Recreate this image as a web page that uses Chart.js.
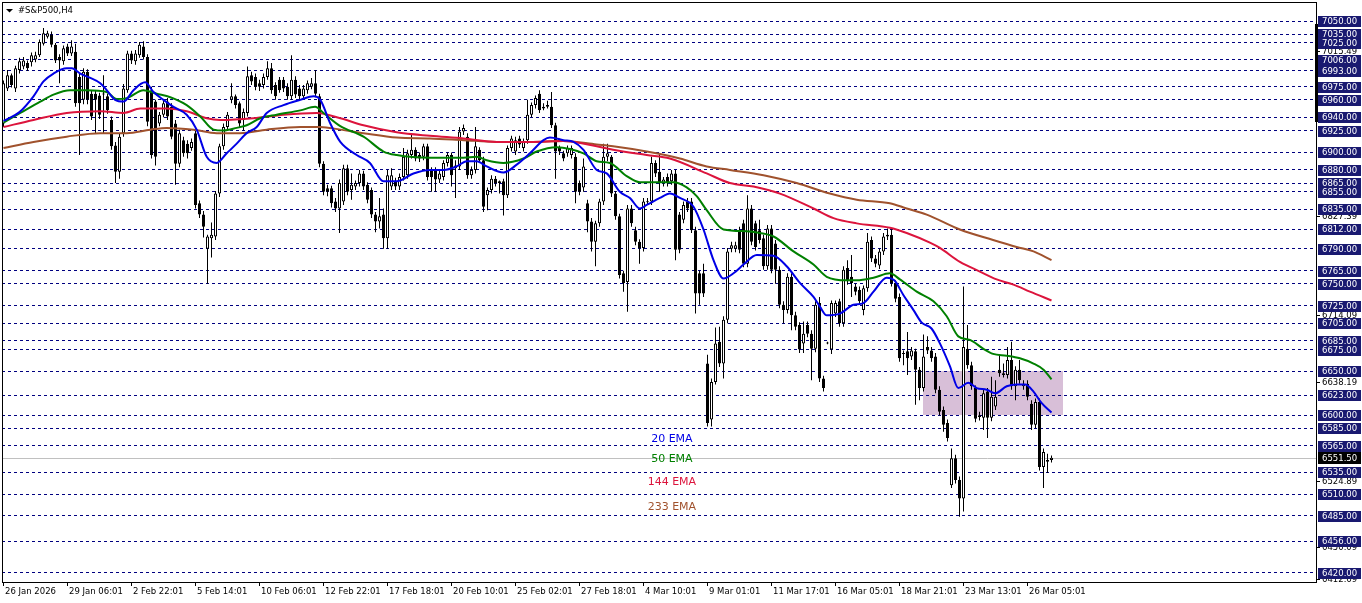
<!DOCTYPE html>
<html>
<head>
<meta charset="utf-8">
<script src="https://cdn.jsdelivr.net/npm/chart.js@4.4.1/dist/chart.umd.min.js"></script>
<style>
  html, body { margin: 0; padding: 0; background: #fff; overflow: hidden; }
  #wrap { width: 1362px; height: 603px; position: relative; }
</style>
</head>
<body>
<div id="wrap"><canvas id="chartSP500"></canvas></div>
<script>
// ================== DATA (#S&P500, H4) ================ //
const opens = [
  6933,6973,6988,6973,6994,6998,7002,7003,7006,7011,
  7024,7032,7034,7023,7009,7004,7021,7013,7015,6986,
  6960,6992,6967,6967,6965,6966,6964,6937,6908,6878,
  6922,6971,7013,7004,7011,7021,7009,6971,6958,6933,
  6943,6958,6952,6933,6887,6914,6910,6905,6922,6842,
  6829,6790,6802,6804,6853,6907,6929,6960,6964,6956,
  6937,6945,6988,6986,6979,6977,6986,6996,6977,6983,
  6983,6975,6964,6983,6973,6964,6971,6975,6979,6964,
  6887,6859,6859,6844,6836,6844,6882,6857,6861,6865,
  6876,6863,6857,6829,6821,6829,6802,6861,6867,6861,
  6872,6874,6897,6903,6897,6895,6907,6880,6880,6869,
  6872,6888,6897,6882,6884,6924,6918,6874,6880,6903,
  6891,6851,6857,6870,6867,6867,6851,6905,6901,6916,
  6905,6914,6943,6954,6967,6950,6952,6952,6931,6905,
  6899,6899,6897,6895,6865,6860,6842,6821,6798,6819,
  6844,6895,6895,6853,6827,6762,6752,6836,6811,6798,
  6791,6843,6844,6888,6878,6865,6872,6867,6876,6829,
  6823,6844,6844,6811,6762,6762,6659,6595,6638,6684,
  6659,6709,6790,6790,6811,6819,6773,6836,6819,6811,
  6802,6770,6813,6796,6766,6726,6720,6758,6714,6703,
  6682,6703,6693,6676,6728,6642,6682,6675,6716,6730,
  6705,6768,6758,6747,6743,6720,6745,6800,6779,6771,
  6787,6804,6806,6751,6735,6670,6673,6667,6673,6652,
  6631,6678,6674,6667,6629,6606,6591,6520,6551,6526,
  6505,6676,6657,6631,6598,6597,6627,6597,6610,6652,
  6646,6646,6663,6633,6652,6633,6636,6613,6589,6615,
  6541,6547,6549
];
const highs = [
  6982,6994,6990,6999,7008,7009,7005,7014,7015,7029,
  7042,7039,7038,7025,7012,7022,7024,7028,7024,6990,
  6996,6995,6971,6970,6968,6988,6967,6941,6912,6922,
  6978,7016,7016,7017,7026,7027,7012,6975,6960,6946,
  6960,6962,6956,6937,6926,6918,6914,6916,6925,6845,
  6833,6806,6820,6856,6910,6933,6946,6979,6966,6958,
  6950,6998,6992,6990,6983,6990,7004,7002,6980,6986,
  6986,6979,7011,6987,6977,6977,6982,6985,6994,6967,
  6890,6863,6862,6848,6869,6886,6886,6876,6868,6880,
  6879,6866,6860,6832,6848,6836,6880,6882,6871,6876,
  6905,6903,6920,6906,6900,6910,6910,6883,6883,6880,
  6891,6900,6900,6891,6929,6932,6922,6884,6929,6906,
  6895,6860,6874,6873,6868,6870,6908,6919,6918,6919,
  6916,6960,6957,6965,6971,6956,6959,6969,6934,6908,
  6902,6908,6908,6899,6868,6893,6846,6825,6822,6847,
  6910,6910,6897,6856,6830,6765,6840,6840,6815,6801,
  6848,6848,6895,6891,6899,6872,6876,6880,6880,6832,
  6844,6848,6848,6815,6765,6773,6669,6642,6700,6701,
  6713,6791,6798,6798,6815,6823,6851,6840,6822,6823,
  6806,6817,6817,6800,6770,6730,6762,6762,6718,6706,
  6707,6707,6697,6730,6735,6645,6684,6731,6731,6733,
  6770,6777,6783,6750,6747,6748,6808,6804,6783,6790,
  6808,6813,6813,6754,6739,6674,6695,6678,6676,6655,
  6692,6690,6678,6671,6633,6610,6595,6562,6555,6530,
  6747,6703,6661,6634,6604,6629,6631,6644,6640,6669,
  6659,6678,6684,6656,6663,6640,6640,6617,6619,6619,
  6562,6556,6554
];
const lows = [
  6929,6970,6974,6969,6990,6995,6993,6998,7003,7009,
  7022,7030,7020,7002,6979,7000,7010,7010,6952,6897,
  6955,6955,6937,6922,6938,6922,6944,6903,6865,6870,
  6918,6968,7001,7000,7008,7006,6930,6893,6885,6930,
  6940,6937,6915,6863,6883,6895,6893,6902,6836,6825,
  6803,6750,6780,6800,6849,6903,6925,6956,6950,6929,
  6925,6941,6977,6971,6970,6973,6983,6967,6960,6968,
  6969,6960,6960,6962,6959,6960,6967,6972,6963,6883,
  6851,6850,6837,6832,6808,6840,6851,6846,6857,6861,
  6857,6842,6825,6809,6813,6790,6790,6857,6857,6857,
  6868,6870,6893,6890,6889,6891,6868,6855,6855,6865,
  6868,6884,6861,6848,6880,6920,6870,6870,6876,6888,
  6832,6834,6853,6861,6853,6828,6848,6901,6897,6905,
  6901,6910,6940,6950,6945,6948,6950,6928,6870,6897,
  6890,6895,6893,6842,6851,6855,6809,6787,6770,6815,
  6840,6890,6849,6823,6756,6741,6718,6815,6794,6773,
  6787,6840,6840,6872,6855,6861,6861,6863,6777,6785,
  6819,6832,6808,6716,6726,6735,6587,6587,6635,6655,
  6642,6705,6786,6786,6785,6769,6769,6794,6788,6796,
  6766,6766,6762,6750,6722,6705,6716,6697,6697,6671,
  6671,6689,6640,6672,6638,6627,6681,6670,6712,6701,
  6701,6749,6735,6737,6726,6714,6741,6775,6769,6767,
  6783,6800,6747,6729,6661,6657,6646,6663,6612,6617,
  6627,6670,6661,6625,6600,6581,6570,6517,6522,6484,
  6490,6653,6629,6592,6594,6583,6574,6593,6606,6644,
  6643,6642,6629,6617,6636,6629,6617,6583,6585,6537,
  6517,6534,6546
];
const closes = [
  6979,6988,6977,6996,7004,7005,6996,7011,7011,7026,
  7036,7036,7023,7005,7005,7019,7013,7021,6956,6956,
  6992,6960,6941,6960,6943,6967,6948,6907,6878,6918,
  6973,7013,7005,7013,7023,7009,6935,6897,6895,6943,
  6956,6941,6918,6887,6922,6899,6899,6912,6840,6829,
  6815,6804,6806,6853,6907,6929,6943,6964,6954,6933,
  6946,6987,6981,6975,6975,6986,6996,6971,6964,6971,
  6973,6964,6983,6966,6964,6973,6979,6979,6967,6887,
  6855,6855,6842,6836,6865,6882,6855,6863,6865,6876,
  6861,6846,6829,6821,6827,6802,6874,6874,6861,6872,
  6895,6899,6903,6893,6893,6907,6872,6872,6869,6876,
  6888,6897,6874,6885,6924,6928,6874,6880,6907,6891,
  6838,6857,6870,6865,6865,6851,6905,6916,6914,6909,
  6912,6943,6954,6962,6948,6952,6954,6931,6901,6901,
  6893,6905,6905,6855,6855,6884,6821,6798,6819,6844,
  6895,6899,6853,6827,6760,6751,6836,6819,6798,6791,
  6844,6844,6888,6876,6865,6869,6865,6876,6789,6789,
  6840,6836,6811,6739,6739,6739,6591,6638,6682,6659,
  6709,6787,6794,6794,6789,6773,6836,6798,6792,6800,
  6770,6813,6766,6766,6726,6720,6758,6714,6701,6675,
  6693,6693,6676,6726,6642,6631,6683,6728,6728,6705,
  6766,6753,6751,6741,6730,6745,6798,6779,6773,6787,
  6804,6806,6751,6733,6665,6671,6665,6674,6652,6631,
  6667,6674,6665,6629,6604,6589,6574,6551,6526,6505,
  6678,6657,6633,6596,6600,6625,6597,6621,6621,6648,
  6648,6663,6633,6652,6640,6636,6621,6589,6615,6541,
  6558,6549,6551.5
];

// EMA lines (bar index -> price)
const ema20Bars = [0,4,7.5,10,12.5,15.8,17.1,19.2,21.7,24.2,25.8,27.9,30,32.5,35.4,37.5,40,42.5,45.8,48.3,50.8,53.3,55.8,58.3,60.8,63.3,65.8,70,74.2,77.5,79.2,81.7,84.2,88.3,91.6,95,98.3,102.5,106.6,110,113.3,115.8,118.3,120.8,125,128.3,131.6,135,136.6,140,142.5,145,148.3,150.8,154.1,156.6,159.1,160.8,164.1,166.6,169.1,172.5,175,177.5,180,182.5,185,188.3,192.5,195.8,199.1,202.5,204.1,205.8,209.1,212.5,215,217.5,220.8,222.7,225,227.5,229.5,232,234.1,236.6,238.7,241.2,243.3,245.8,247.9,250.8,253.3,255.4,257.5,259.5,262];
const ema20Vals = [6936,6946,6964,6981,6990,6996,6996,6990,6985,6979,6971,6960,6958,6971,6980,6969,6960,6952,6943,6926,6895,6888,6899,6910,6922,6929,6945,6954,6960,6964,6960,6933,6912,6897,6888,6867,6867,6876,6880,6880,6884,6890,6890,6884,6877,6886,6899,6914,6917,6914,6912,6903,6880,6876,6855,6848,6836,6840,6848,6853,6848,6838,6812,6777,6756,6762,6772,6783,6782,6770,6751,6735,6724,6714,6716,6726,6728,6741,6757,6754,6737,6720,6706,6699,6682,6656,6631,6637,6631,6629,6625,6633,6635,6635,6627,6614,6603];

const ema50Bars = [0,4.2,9.2,12.5,16.7,20.8,25.8,28.3,30.8,35,38.3,41.7,45.8,49.2,52.5,55,58.3,60.8,64.2,68.3,74.2,77.9,80,84.2,90,95,98.3,106.6,115,118.3,120.8,125,130,133.3,138.3,141.6,145,148.3,151.6,155.8,159.1,164.1,167.5,170.8,173.3,175.8,180,185.8,189.1,192.5,197.5,202.5,205.8,210.8,213.3,217.5,221.6,224.1,228.3,232.5,235.8,238.7,241.6,244.9,247.4,250.8,254.1,257.5,260,262];
const ema50Vals = [6934,6945,6958,6966,6971,6971,6969,6961,6962,6971,6967,6963,6954,6941,6926,6925,6928,6931,6939,6943,6948,6952,6945,6930,6918,6901,6897,6894,6894,6895,6891,6888,6893,6901,6906,6904,6899,6890,6888,6873,6866,6866,6866,6860,6850,6834,6812,6810,6808,6804,6787,6772,6758,6754,6754,6757,6762,6755,6741,6730,6713,6690,6686,6676,6670,6668,6665,6659,6652,6641];

const ema144Bars = [0,7.5,15.8,24.2,30,34.2,40.8,45.8,50.8,54.2,62.5,70,78.3,84.2,90,98.3,106.6,115,123.3,131.6,140,148.3,152.4,160.8,166.6,175.8,181.6,187.5,194.1,202.5,207.5,213.3,221.6,225.8,231.6,234.1,239.1,244.1,248.3,252.5,256.6,262];
const ema144Vals = [6929,6937,6945,6947,6945,6950,6950,6947,6939,6937,6939,6943,6945,6939,6931,6923,6919,6916,6912,6912,6913,6907,6903,6897,6893,6876,6865,6861,6853,6836,6825,6819,6814,6808,6797,6791,6775,6764,6755,6749,6741,6731];

const ema233Bars = [0,7.5,15.8,24.2,30.8,36.7,40.8,47.5,53.3,59.2,65.8,74.2,79.2,84.2,90,98.3,106.6,115,123.3,131.6,140,148.3,152.4,160.8,169.1,175.8,181.6,190,198.3,206.6,213.3,221.6,225.8,230.8,239.1,247.4,253.3,257.5,262];
const ema233Vals = [6905,6912,6918,6922,6922,6926,6928,6926,6922,6922,6926,6929,6929,6926,6922,6917,6916,6914,6912,6912,6913,6909,6907,6901,6893,6884,6880,6874,6865,6853,6846,6842,6836,6829,6812,6800,6792,6787,6777];

// horizontal lines (navy labels) and the plain scale marks
const priceLevels = [7050,7035,7025,7006,6993,6975,6960,6940,6925,6900,6880,6865,6855,6835,6812,6790,6765,6750,6725,6705,6685,6675,6650,6623,6600,6585,6565,6535,6510,6485,6456,6420];
const scaleMarks = [7015.49,6827.39,6714.09,6638.19,6524.89,6450.09,6412.69];
const bidPrice = 6551.5;

// time axis
const dateLabels = ["26 Jan 2026","29 Jan 06:01","2 Feb 22:01","5 Feb 14:01","10 Feb 06:01","12 Feb 22:01","17 Feb 18:01","20 Feb 10:01","25 Feb 02:01","27 Feb 18:01","4 Mar 10:01","9 Mar 01:01","11 Mar 17:01","16 Mar 05:01","18 Mar 21:01","23 Mar 13:01","26 Mar 05:01"];
const dateBars = [0,16,32,48,64,80,96,112,128,144,160,176,192,208,224,240,256];

// text objects and the shaded zone
const emaNames = ["20 EMA","50 EMA","144 EMA","233 EMA"];
const emaLabelPrices = [6572.6,6549.8,6523.5,6495.4];
const emaLabelBar = 167.1;
const zoneBars = [229.8, 264.8];
const zonePrices = [6600, 6650];

// ================== STYLE ================ //
const EMA_COLORS = ["#0000e6", "#008000", "#dc143c", "#a0522d"];
const AXIS_FONT = '8.5px "DejaVu Sans"';
const NAVY = "#000080";
const LABEL_BG = "#191970";

function candleBodies() {
  return opens.map((o, i) => ({ x: i, y: [o, closes[i]] }));
}
function candleWicks() {
  return lows.map((l, i) => ({ x: i, y: [l, highs[i]] }));
}
function emaPoints(bars, vals) {
  return bars.map((b, i) => ({ x: b, y: vals[i] }));
}
function emaDataset(label, bars, vals, color) {
  return {
    type: "line",
    label,
    data: emaPoints(bars, vals),
    borderColor: color,
    borderWidth: 2,
    pointRadius: 0,
    cubicInterpolationMode: "monotone",
    order: 0,
  };
}

// ================== MT4 DECOR ================ //
const mt4Plugin = {
  id: "mt4",
  beforeDraw(chart) {
    const { ctx, scales: { x, y } } = chart;
    ctx.save();
    ctx.fillStyle = "#ffffff";
    ctx.fillRect(0, 0, chart.width, chart.height);
    const x0 = Math.round(x.getPixelForValue(zoneBars[0]));
    const x1 = Math.round(x.getPixelForValue(zoneBars[1]));
    const y0 = Math.round(y.getPixelForValue(zonePrices[1]));
    const y1 = Math.round(y.getPixelForValue(zonePrices[0]));
    ctx.fillStyle = "#d8bfd8";
    ctx.fillRect(x0, y0, x1 - x0, y1 - y0);
    ctx.restore();
  },
  beforeDatasetsDraw(chart) {
    const { ctx, chartArea, scales: { y } } = chart;
    const py = Math.round(y.getPixelForValue(bidPrice)) + 0.5;
    ctx.save();
    ctx.strokeStyle = "#c0c0c0";
    ctx.lineWidth = 1;
    ctx.beginPath();
    ctx.moveTo(chartArea.left, py);
    ctx.lineTo(chartArea.right, py);
    ctx.stroke();
    ctx.restore();
  },
  afterDraw(chart) {
    const { ctx, chartArea, scales: { x, y } } = chart;
    const { left, right, top, bottom } = chartArea;
    ctx.save();

    // frame
    ctx.strokeStyle = "#000";
    ctx.lineWidth = 1;
    ctx.strokeRect(left + 0.5, top + 0.5, right - left, bottom - top);
    ctx.fillStyle = "#000";
    ctx.fillRect(right - 1, 24, 3, 98);

    ctx.font = AXIS_FONT;
    ctx.textBaseline = "middle";
    ctx.textAlign = "left";

    // plain scale marks (partly hidden by the line labels)
    scaleMarks.forEach((v) => {
      const py = Math.round(y.getPixelForValue(v));
      ctx.fillStyle = "#000";
      ctx.fillRect(right + 1, py, 3, 1);
      ctx.fillText(v.toFixed(2), right + 6, py + 0.5);
    });

    // navy line labels
    priceLevels.forEach((v) => {
      const py = Math.round(y.getPixelForValue(v));
      ctx.fillStyle = LABEL_BG;
      ctx.fillRect(right + 2, py - 5, 43, 11);
      ctx.fillStyle = "#fff";
      ctx.fillText(v.toFixed(2), right + 6, py + 0.5);
    });

    // bid label
    const by = Math.round(y.getPixelForValue(bidPrice));
    ctx.fillStyle = "#000";
    ctx.fillRect(right + 2, by - 6, 43, 12);
    ctx.fillStyle = "#fff";
    ctx.fillText(bidPrice.toFixed(2), right + 6, by + 0.5);

    // time axis
    ctx.fillStyle = "#000";
    dateBars.forEach((b, i) => {
      const px = Math.round(x.getPixelForValue(b) - 0.5);
      ctx.fillRect(px, bottom, 1, 4);
      ctx.fillText(dateLabels[i], px + 2, bottom + 10);
    });

    // title
    ctx.beginPath();
    ctx.moveTo(6, 9);
    ctx.lineTo(13, 9);
    ctx.lineTo(9.5, 12.5);
    ctx.closePath();
    ctx.fill();
    ctx.fillText("#S&P500,H4", 18, 10.5);

    // EMA text objects
    ctx.font = '11px "DejaVu Sans"';
    ctx.textAlign = "center";
    emaNames.forEach((name, i) => {
      ctx.fillStyle = EMA_COLORS[i];
      ctx.fillText(name, x.getPixelForValue(emaLabelBar), y.getPixelForValue(emaLabelPrices[i]));
    });

    ctx.restore();
  },
};

// ================== CHART ================ //
function renderChartSP500() {
  const canvas = document.getElementById("chartSP500");
  if (!canvas) return;

  const bodyColors = opens.map((o, i) => (closes[i] >= o ? "#ffffff" : "#000000"));

  new Chart(canvas, {
    type: "bar",
    data: {
      datasets: [
        emaDataset("20 EMA", ema20Bars, ema20Vals, EMA_COLORS[0]),
        emaDataset("50 EMA", ema50Bars, ema50Vals, EMA_COLORS[1]),
        emaDataset("144 EMA", ema144Bars, ema144Vals, EMA_COLORS[2]),
        emaDataset("233 EMA", ema233Bars, ema233Vals, EMA_COLORS[3]),
        {
          label: "body",
          data: candleBodies(),
          backgroundColor: bodyColors,
          borderColor: "#000000",
          borderWidth: 1,
          borderSkipped: false,
          barThickness: 3,
          minBarLength: 1,
          grouped: false,
          inflateAmount: 0,
          order: 1,
        },
        {
          label: "wick",
          data: candleWicks(),
          backgroundColor: "#000000",
          borderWidth: 0,
          barThickness: 1,
          grouped: false,
          inflateAmount: 0,
          order: 2,
        },
      ],
    },
    options: {
      responsive: true,
      maintainAspectRatio: false,
      animation: false,
      events: [],
      layout: { padding: { left: 2, top: 2, right: 0, bottom: 0 } },
      plugins: {
        legend: { display: false },
        tooltip: { enabled: false },
      },
      scales: {
        x: {
          type: "linear",
          min: -0.375,
          max: 328.125,
          offset: false,
          ticks: { display: false },
          grid: { display: false },
          border: { display: false },
          afterFit: (s) => { s.height = 21; },
        },
        y: {
          type: "linear",
          position: "right",
          min: 6409.6,
          max: 7071.7,
          afterBuildTicks: (s) => { s.ticks = priceLevels.map((v) => ({ value: v })); },
          ticks: { display: false },
          grid: { color: NAVY, lineWidth: 1, drawTicks: false },
          border: { display: false, dash: [3, 3] },
          afterFit: (s) => { s.width = 46; },
        },
      },
    },
    plugins: [mt4Plugin],
  });
}

renderChartSP500();
</script>
</body>
</html>
